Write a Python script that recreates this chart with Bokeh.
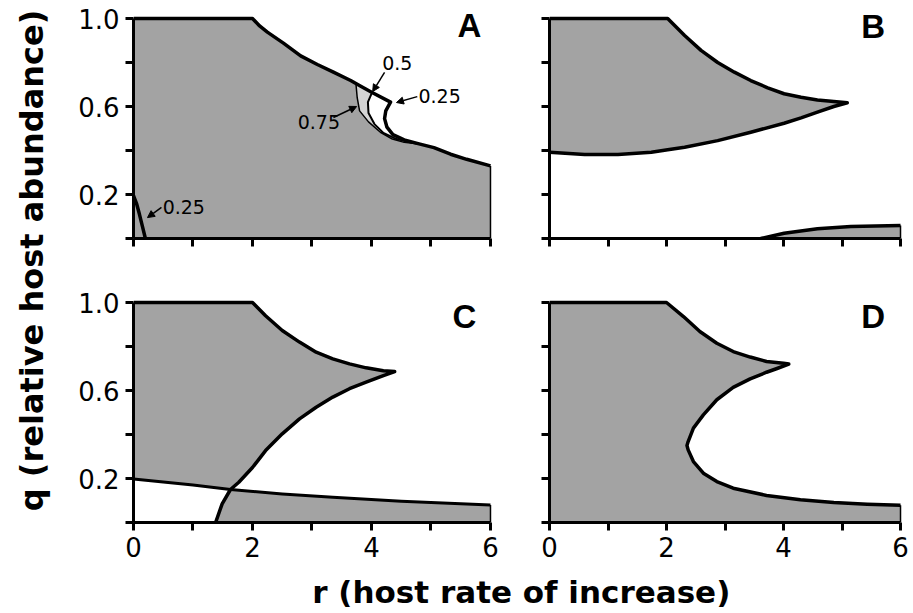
import numpy as np
from bokeh.plotting import figure
from bokeh.models import Range1d, FixedTicker, GridBox, Arrow, NormalHead, PrintfTickFormatter
from bokeh.core.properties import value
from bokeh.embed import file_html
from bokeh.resources import INLINE

# ---------------- data ----------------
X_TITLE = "r  (host rate of increase)"
Y_TITLE = "q  (relative host abundance)"
panel_letters = ["A", "B", "C", "D"]

x_major = [0, 2, 4, 6]
x_minor = [1, 3, 5]
x_all = [0, 1, 2, 3, 4, 5, 6]
y_major = [0.2, 0.6, 1.0]
y_minor = [0.0, 0.4, 0.8]
y_all = [0.0, 0.2, 0.4, 0.6, 0.8, 1.0]

# Panel A
a_top_r = [0.0, 2.0, 2.12, 2.25, 2.52, 2.81, 3.09, 3.36, 3.65, 3.82, 4.01]
a_top_q = [1.0, 1.0, 0.966, 0.938, 0.888, 0.83, 0.791, 0.756, 0.718, 0.692, 0.664]
a_c25_r = [4.01, 4.32, 4.24, 4.22, 4.26, 4.36, 4.55, 4.8]
a_c25_q = [0.664, 0.62, 0.58, 0.545, 0.506, 0.472, 0.448, 0.43]
a_c50_r = [4.01, 3.94, 3.95, 4.05, 4.2, 4.42, 4.8]
a_c50_q = [0.664, 0.62, 0.57, 0.52, 0.48, 0.452, 0.43]
a_c75_r = [3.74, 3.76, 3.8, 3.95, 4.15, 4.35, 4.55, 4.8]
a_c75_q = [0.70, 0.64, 0.58, 0.53, 0.483, 0.452, 0.437, 0.43]
a_low_r = [4.8, 5.05, 5.33, 5.6, 6.0]
a_low_q = [0.43, 0.413, 0.383, 0.36, 0.33]
a_corner_r = [0.0, 0.05, 0.1, 0.15, 0.2]
a_corner_q = [0.195, 0.16, 0.11, 0.055, 0.0]
a_lab_text = ["0.5", "0.25", "0.75", "0.25"]
a_lab_r = [4.18, 4.79, 2.76, 0.49]
a_lab_q = [0.798, 0.65, 0.53, 0.143]
a_arr_r0 = [4.22, 4.77, 3.36, 0.47]
a_arr_q0 = [0.755, 0.645, 0.55, 0.141]
a_arr_r1 = [4.02, 4.42, 3.75, 0.235]
a_arr_q1 = [0.668, 0.618, 0.60, 0.095]

# Panel B
b_up_r = [0.0, 2.02, 2.31, 2.59, 2.875, 3.16, 3.44, 3.73, 4.01, 4.3, 4.58, 4.86, 5.09,
          4.86, 4.58, 4.3, 4.01, 3.44, 2.875, 2.31, 2.02, 1.74, 1.17, 0.6, 0.0]
b_up_q = [1.0, 1.0, 0.923, 0.855, 0.80, 0.756, 0.718, 0.685, 0.658, 0.642, 0.63, 0.623, 0.617,
          0.60, 0.574, 0.548, 0.524, 0.483, 0.445, 0.415, 0.403, 0.392, 0.382, 0.382, 0.392]
b_low_r = [3.61, 4.01, 4.58, 5.15, 6.0]
b_low_q = [0.0, 0.024, 0.044, 0.055, 0.059]

# Panel C
c_curve_r = [0.0, 2.0, 2.22, 2.5, 2.79, 3.07, 3.35, 3.63, 3.91, 4.2, 4.39,
             4.2, 3.91, 3.63, 3.35, 3.07, 2.79, 2.5, 2.22, 2.0, 1.77, 1.63, 1.49, 1.38]
c_curve_q = [1.0, 1.0, 0.94, 0.873, 0.82, 0.774, 0.744, 0.721, 0.703, 0.69, 0.686,
             0.668, 0.638, 0.608, 0.57, 0.524, 0.471, 0.403, 0.327, 0.25, 0.183, 0.15, 0.085, 0.0]
c_cross_curve = 21
c_line_r = [0.0, 0.5, 1.0, 1.63, 2.5, 3.35, 4.5, 5.5, 6.0]
c_line_q = [0.198, 0.184, 0.17, 0.15, 0.13, 0.115, 0.097, 0.085, 0.08]
c_cross_line = 3

# Panel D
d_r = [0.0, 2.0, 2.29, 2.57, 2.86, 3.14, 3.43, 3.71, 4.0, 4.09, 3.89, 3.71, 3.43, 3.14, 2.86,
       2.63, 2.46, 2.37, 2.35, 2.37, 2.46, 2.63, 2.86, 3.14, 3.71, 4.29, 4.86, 5.43, 6.0]
d_q = [1.0, 1.0, 0.936, 0.868, 0.815, 0.777, 0.752, 0.732, 0.724, 0.72, 0.70, 0.683, 0.653, 0.614, 0.558,
       0.489, 0.429, 0.368, 0.35, 0.33, 0.277, 0.224, 0.186, 0.156, 0.123, 0.103, 0.091, 0.083, 0.078]

# letter positions (data coords of each panel, vertical centre)
letter_r = [5.445, 5.33, 5.36, 5.33]
letter_q = [0.970, 0.964, 0.936, 0.936]

# ---------------- styling ----------------
FILL = "#a3a3a3"
LIGHT = "#d4d4d4"
THICK = 3.5
FONT = "DejaVu Sans"
X_END = 6.034
Y_END = 227 / 220
FRAME_H = 227


def make_panel(width, left, right, top, bottom, show_x, show_y):
    p = figure(width=width, height=top + FRAME_H + bottom,
               x_range=Range1d(0, X_END), y_range=Range1d(0, Y_END),
               output_backend="svg", toolbar_location=None, title=None,
               min_border_left=left, min_border_right=right,
               min_border_top=top, min_border_bottom=bottom)
    p.outline_line_color = None
    p.grid.visible = False
    p.background_fill_color = "white"
    p.border_fill_color = "white"
    xa = p.xaxis[0]
    ya = p.yaxis[0]
    if show_x:
        xa.ticker = FixedTicker(ticks=x_major, minor_ticks=x_minor)
    else:
        xa.ticker = FixedTicker(ticks=[], minor_ticks=x_all)
    if show_y:
        ya.ticker = FixedTicker(ticks=y_major, minor_ticks=y_minor)
        ya.formatter = PrintfTickFormatter(format="%.1f")
    else:
        ya.ticker = FixedTicker(ticks=[], minor_ticks=y_all)
    xa.bounds = (0, 6)
    ya.bounds = (0, 1)
    for ax in (xa, ya):
        ax.axis_line_width = 3
        ax.axis_line_color = "black"
        ax.major_tick_line_width = 3
        ax.minor_tick_line_width = 3
        ax.major_tick_out = 8
        ax.major_tick_in = 0
        ax.minor_tick_out = 8
        ax.minor_tick_in = 0
        ax.major_label_standoff = 6
        ax.major_label_text_font = FONT
        ax.major_label_text_font_size = "26px"
        ax.major_label_text_color = "black"
    return p


def letter(p, i):
    p.text(x=[letter_r[i]], y=[letter_q[i]], text=[panel_letters[i]],
           text_font=value("Liberation Sans"), text_font_style="bold",
           text_font_size="33px", text_align="left", text_baseline="middle",
           text_color="black")


# ---------------- Panel A ----------------
pa = make_panel(453, 77, 17, 11, 50, False, True)
a_poly_r = [0.0] + a_top_r + a_c50_r[1:] + a_low_r[1:] + [a_low_r[-1]]
a_poly_q = [0.0] + a_top_q + a_c50_q[1:] + a_low_q[1:] + [0.0]
pa.patch(a_poly_r, a_poly_q, fill_color=FILL, line_color=None)
pa.patch(a_c75_r + a_c50_r[::-1], a_c75_q + a_c50_q[::-1], fill_color=LIGHT, line_color=None)
pa.line(a_top_r + a_c25_r[1:] + a_low_r[1:], a_top_q + a_c25_q[1:] + a_low_q[1:],
        line_width=THICK, line_color="black", line_join="round")
pa.line(a_c50_r, a_c50_q, line_width=2, line_color="black")
pa.line(a_c75_r, a_c75_q, line_width=1.5, line_color="black")
pa.line([a_low_r[-1], a_low_r[-1]], [a_low_q[-1], 0.0], line_width=1.5, line_color="black")
pa.line(a_corner_r, a_corner_q, line_width=THICK, line_color="black")
pa.text(x=a_lab_r, y=a_lab_q, text=a_lab_text, text_font=value(FONT), text_font_size="19px",
        text_align="left", text_baseline="middle", text_color="black")
for i in range(len(a_arr_r0)):
    pa.add_layout(Arrow(end=NormalHead(size=7, fill_color="black", line_color="black"),
                        x_start=a_arr_r0[i], y_start=a_arr_q0[i],
                        x_end=a_arr_r1[i], y_end=a_arr_q1[i],
                        line_width=1.5, line_color="black"))
letter(pa, 0)

# ---------------- Panel B ----------------
pb = make_panel(403, 40, 10, 11, 50, False, False)
pb.patch(b_up_r, b_up_q, fill_color=FILL, line_color=None)
pb.line(b_up_r, b_up_q, line_width=THICK, line_color="black", line_join="round")
pb.patch(b_low_r + [b_low_r[-1]], b_low_q + [0.0], fill_color=FILL, line_color=None)
pb.line(b_low_r, b_low_q, line_width=THICK, line_color="black", line_join="round")
pb.line([b_low_r[-1], b_low_r[-1]], [b_low_q[-1], 0.0], line_width=1.5, line_color="black")
letter(pb, 1)

# ---------------- Panel C ----------------
pc = make_panel(453, 77, 17, 7, 47, True, True)
k = c_cross_curve
m = c_cross_line
c_up_r = c_curve_r[:k + 1] + c_line_r[m - 1::-1]
c_up_q = c_curve_q[:k + 1] + c_line_q[m - 1::-1]
pc.patch(c_up_r, c_up_q, fill_color=FILL, line_color=None)
c_lo_r = c_line_r[m:] + [c_line_r[-1]] + c_curve_r[:k - 1:-1]
c_lo_q = c_line_q[m:] + [0.0] + c_curve_q[:k - 1:-1]
pc.patch(c_lo_r, c_lo_q, fill_color=FILL, line_color=None)
pc.line(c_curve_r, c_curve_q, line_width=THICK, line_color="black", line_join="round")
pc.line(c_line_r, c_line_q, line_width=3, line_color="black", line_join="round")
pc.line([c_line_r[-1], c_line_r[-1]], [c_line_q[-1], 0.0], line_width=1.5, line_color="black")
letter(pc, 2)

# ---------------- Panel D ----------------
pd_ = make_panel(403, 40, 10, 7, 47, True, False)
pd_.patch([0.0] + d_r + [d_r[-1]], [0.0] + d_q + [0.0], fill_color=FILL, line_color=None)
pd_.line(d_r, d_q, line_width=THICK, line_color="black", line_join="round")
pd_.line([d_r[-1], d_r[-1]], [d_q[-1], 0.0], line_width=1.5, line_color="black")
letter(pd_, 3)


# ---------------- shared axis titles ----------------
def text_fig(w, h):
    p = figure(width=w, height=h, x_range=Range1d(0, w), y_range=Range1d(0, h),
               output_backend="svg", toolbar_location=None, title=None,
               x_axis_location=None, y_axis_location=None,
               min_border_left=0, min_border_right=0, min_border_top=0, min_border_bottom=0)
    p.outline_line_color = None
    p.grid.visible = False
    p.border_fill_color = "white"
    p.background_fill_color = "white"
    return p


yt = text_fig(56, 569)
yt.text(x=[31], y=[298], text=[Y_TITLE], angle=np.pi / 2, text_align="center",
        text_baseline="middle", text_font=value(FONT), text_font_style="bold",
        text_font_size="32px", text_color="black")

xt = text_fig(912, 43)
xt.text(x=[532], y=[21], text=[X_TITLE], text_align="center", text_baseline="middle",
        text_font=value(FONT), text_font_style="bold", text_font_size="31px", text_color="black")

layout = GridBox(children=[(yt, 0, 0, 2, 1), (pa, 0, 1), (pb, 0, 2),
                           (pc, 1, 1), (pd_, 1, 2), (xt, 2, 0, 1, 3)])

open("out.html", "w").write(file_html(layout, INLINE))
